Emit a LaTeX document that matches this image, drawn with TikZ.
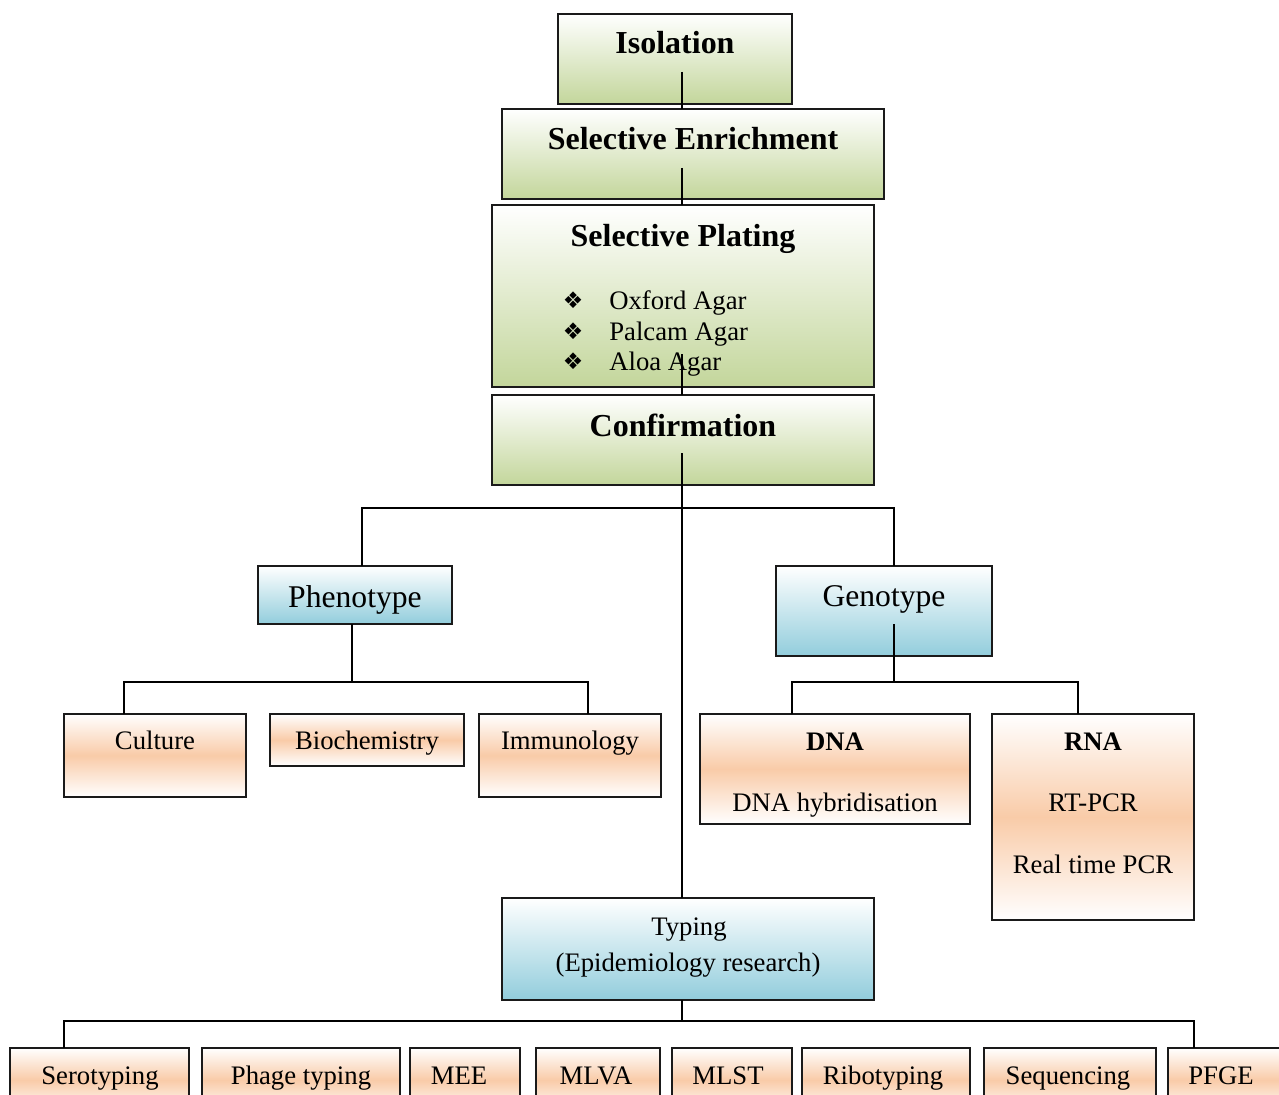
\documentclass[tikz,border=0pt]{standalone}
\usepackage{fontspec}
\setmainfont{Liberation Serif}
\newfontfamily\symfont{DejaVu Sans}
\usetikzlibrary{fit}
\definecolor{grn}{HTML}{C3D69B}
\definecolor{blu}{HTML}{92CDDC}
\definecolor{pch}{HTML}{F9CBA8}
\definecolor{edge}{HTML}{1A1A1A}
\tikzset{
  boxbase/.style={draw=edge, line width=0.9pt, inner sep=0pt, outer sep=0pt},
  gbox/.style={boxbase, top color=white, bottom color=grn},
  bbox/.style={boxbase, top color=white, bottom color=blu},
  obox/.style={boxbase, top color=white, bottom color=white, middle color=pch},
  ttl/.style={anchor=base, inner sep=0pt, font=\fontsize{18.2}{22}\selectfont\bfseries},
  big/.style={anchor=base, inner sep=0pt, font=\fontsize{18}{22}\selectfont},
  txt/.style={anchor=base, inner sep=0pt, font=\fontsize{15.2}{18}\selectfont},
  txb/.style={anchor=base, inner sep=0pt, font=\fontsize{15.2}{18}\selectfont\bfseries},
  bul/.style={anchor=base, inner sep=0pt, font=\symfont\fontsize{13}{15}\selectfont},
  itm/.style={anchor=base west, inner sep=0pt, font=\fontsize{15.2}{18}\selectfont},
  conn/.style={draw=black, line width=0.9pt}
}
\begin{document}
\begin{tikzpicture}[x=0.02cm,y=-0.02cm]
\useasboundingbox (0,0) rectangle (1279,1095);
\clip (0,0) rectangle (1279,1095);
% ---- boxes ----
\node[gbox, fit={(558,14) (792,104)}] (iso) {};
\node[gbox, fit={(502,109) (884,199)}] (se) {};
\node[gbox, fit={(492,205) (874,387)}] (sp) {};
\node[gbox, fit={(492,395) (874,485)}] (conf) {};
\node[bbox, fit={(258,566) (452,624)}] (phe) {};
\node[bbox, fit={(776,566) (992,656)}] (gen) {};
\node[obox, fit={(64,714) (246,797)}] (cul) {};
\node[obox, fit={(270,714) (464,766)}] (bio) {};
\node[obox, fit={(479,714) (661,797)}] (imm) {};
\node[obox, fit={(700,714) (970,824)}] (dna) {};
\node[obox, fit={(992,714) (1194,920)}] (rna) {};
\node[bbox, fit={(502,898) (874,1000)}] (typ) {};
\node[obox, fit={(10,1048) (189,1112)}] (ser) {};
\node[obox, fit={(202,1048) (400,1112)}] (pha) {};
\node[obox, fit={(410,1048) (520,1112)}] (mee) {};
\node[obox, fit={(536,1048) (660,1112)}] (mlva) {};
\node[obox, fit={(672,1048) (792,1112)}] (mlst) {};
\node[obox, fit={(802,1048) (970,1112)}] (ribo) {};
\node[obox, fit={(984,1048) (1156,1112)}] (seq) {};
\node[obox, fit={(1168,1048) (1290,1112)}] (pfge) {};
% ---- texts ----
\node[ttl] (isoT) at (675,54) {Isolation};
\node[ttl] (seT) at (693,150) {Selective Enrichment};
\node[ttl] (spT) at (683,247) {Selective Plating};
\node[bul] (b1) at (573,308) {❖};
\node[bul] (b2) at (573,339) {❖};
\node[bul] (b3) at (573,369) {❖};
\node[itm] (i1) at (609,309) {Oxford Agar};
\node[itm] (i2) at (609,340) {Palcam Agar};
\node[itm] (i3) at (609,370) {Aloa Agar};
\node[ttl] (confT) at (683,436) {Confirmation};
\node[big] (pheT) at (355,607) {Phenotype};
\node[big] (genT) at (884,606) {Genotype};
\node[txt] (culT) at (155,749) {Culture};
\node[txt] (bioT) at (367,749) {Biochemistry};
\node[txt] (immT) at (570,749) {Immunology};
\node[txb] (dnaT) at (835,750) {DNA};
\node[txt] (dnaH) at (835,811) {DNA hybridisation};
\node[txb] (rnaT) at (1093,750) {RNA};
\node[txt] (rnaA) at (1093,811) {RT-PCR};
\node[txt] (rnaB) at (1093,873) {Real time PCR};
\node[txt] (typT) at (689,935) {Typing};
\node[txt] (typE) at (688,971) {(Epidemiology research)};
\node[txt] (serT) at (100,1084) {Serotyping};
\node[txt] (phaT) at (301,1084) {Phage typing};
\node[txt] (meeT) at (459,1084) {MEE};
\node[txt] (mlvaT) at (596,1084) {MLVA};
\node[txt] (mlstT) at (728,1084) {MLST};
\node[txt] (riboT) at (883,1084) {Ribotyping};
\node[txt] (seqT) at (1068,1084) {Sequencing};
\node[txt] (pfgeT) at (1221,1084) {PFGE};
% ---- connectors ----
\coordinate (isoC) at (682,72);
\coordinate (seC) at (682,168);
\coordinate (spC) at (682,354);
\coordinate (confC) at (682,453);
\draw[conn] (isoC) -- (isoC |- se.north);
\draw[conn] (seC) -- (seC |- sp.north);
\draw[conn] (spC) -- (spC |- conf.north);
\draw[conn] (confC) -- (confC |- typ.north);
\coordinate (j1) at (362,508);
\coordinate (j2) at (894,508);
\draw[conn] (phe.north -| j1) -- (j1) -- (j2) -- (gen.north -| j2);
\coordinate (p0) at (352,682);
\coordinate (p1) at (124,682);
\coordinate (p2) at (588,682);
\draw[conn] (phe.south -| p0) -- (p0);
\draw[conn] (cul.north -| p1) -- (p1) -- (p2) -- (imm.north -| p2);
\coordinate (gC) at (894,624);
\coordinate (g0) at (894,682);
\coordinate (g1) at (792,682);
\coordinate (g2) at (1078,682);
\draw[conn] (gC) -- (g0);
\draw[conn] (dna.north -| g1) -- (g1) -- (g2) -- (rna.north -| g2);
\coordinate (t0) at (682,1021);
\coordinate (t1) at (64,1021);
\coordinate (t2) at (1194,1021);
\draw[conn] (typ.south -| t0) -- (t0);
\draw[conn] (ser.north -| t1) -- (t1) -- (t2) -- (pfge.north -| t2);
\end{tikzpicture}
\end{document}
